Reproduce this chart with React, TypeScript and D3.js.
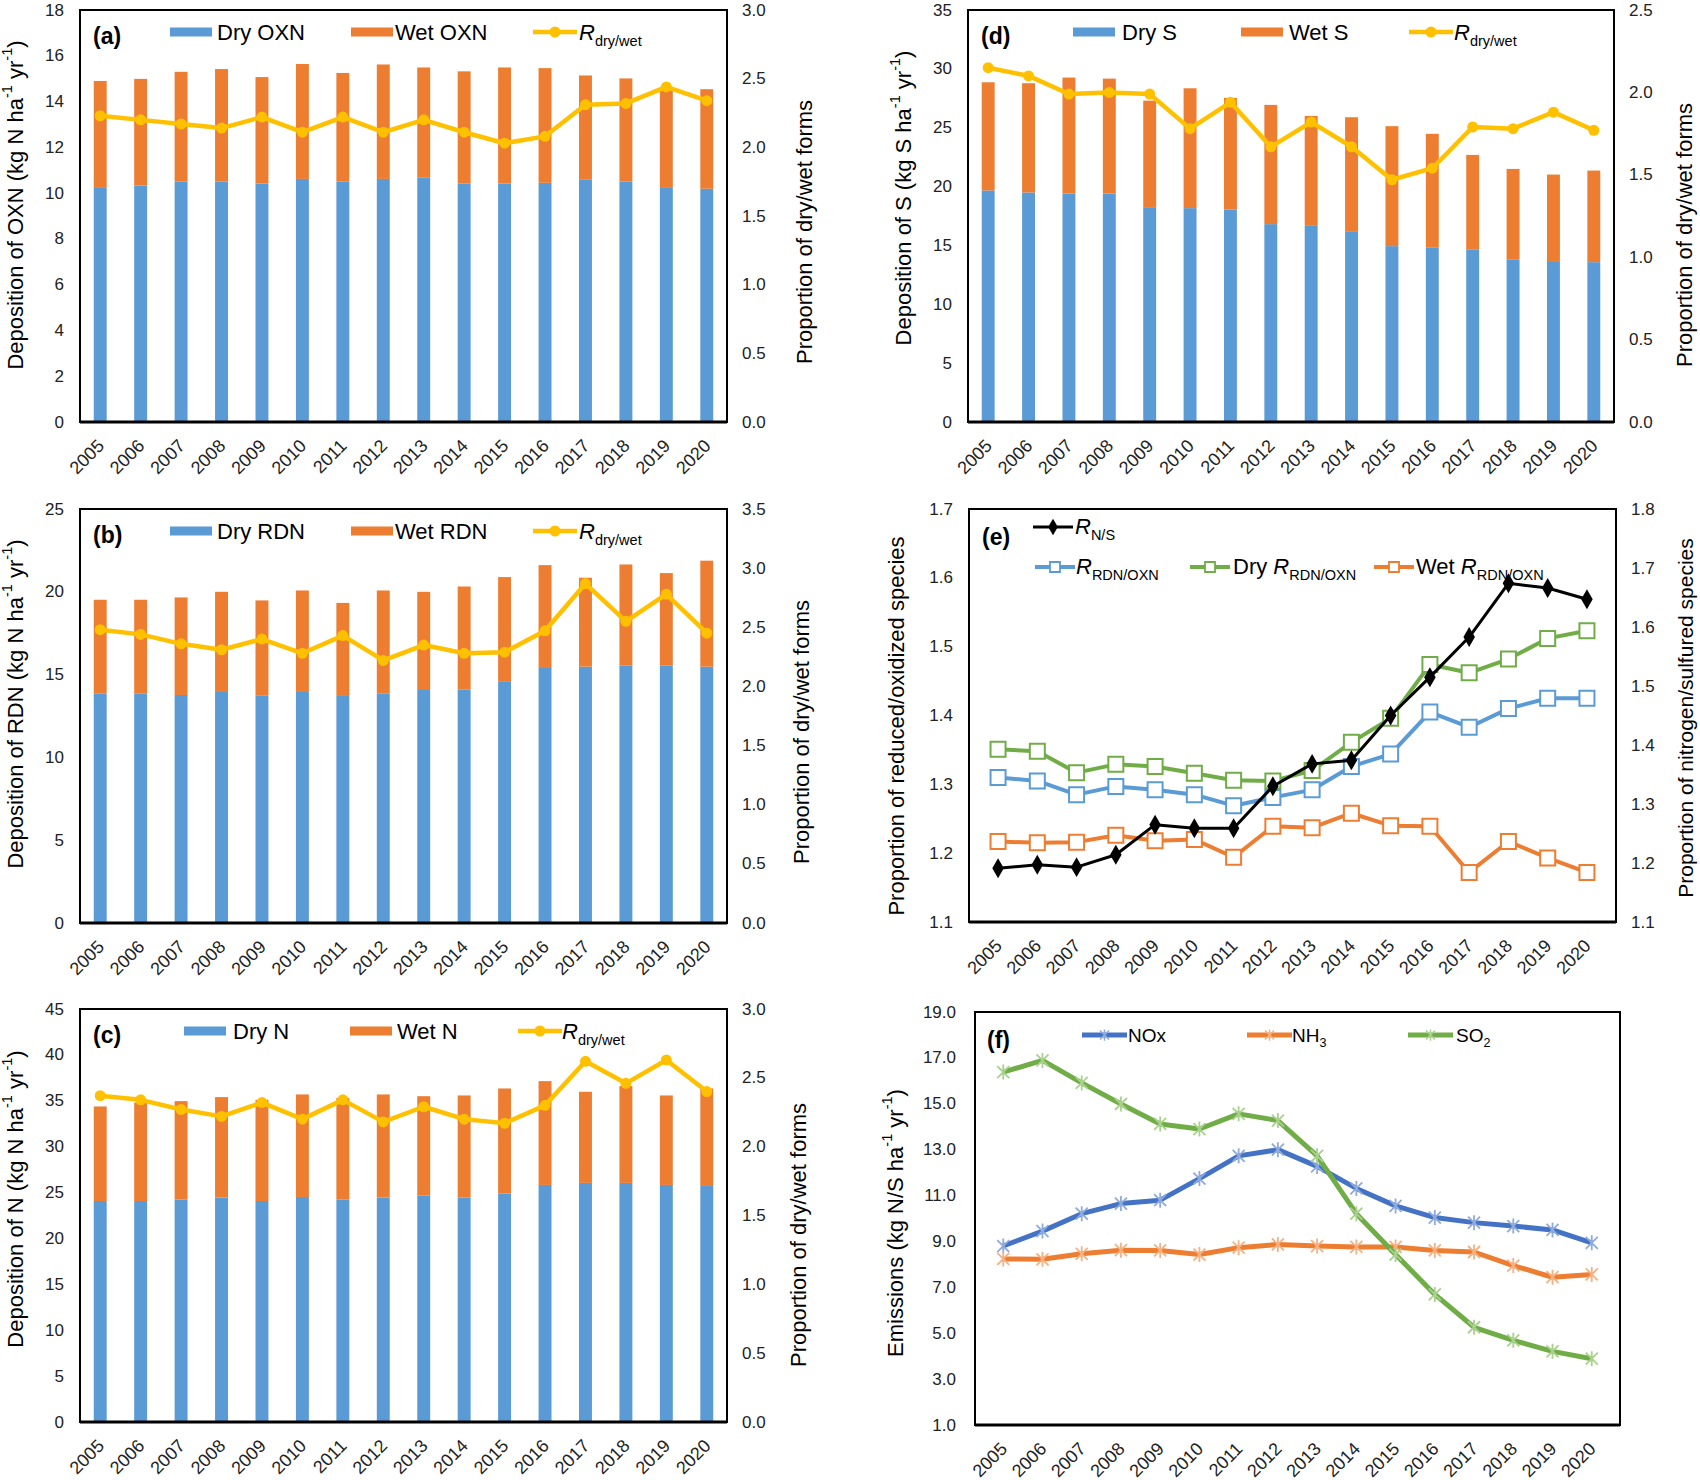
import * as d3 from "d3";

// ---- data ----
const years = ["2005", "2006", "2007", "2008", "2009", "2010", "2011", "2012", "2013", "2014", "2015", "2016", "2017", "2018", "2019", "2020"];

const dryOXN = [10.26, 10.33, 10.5, 10.5, 10.42, 10.62, 10.5, 10.62, 10.67, 10.42, 10.42, 10.45, 10.58, 10.5, 10.26, 10.19];
const wetOXN = [4.64, 4.66, 4.8, 4.92, 4.65, 5.02, 4.75, 5.0, 4.82, 4.9, 5.07, 5.01, 4.56, 4.51, 4.24, 4.35];
const ratioOXN = [2.23, 2.2, 2.17, 2.14, 2.22, 2.11, 2.22, 2.11, 2.2, 2.11, 2.03, 2.08, 2.31, 2.32, 2.44, 2.34];

const dryRDN = [13.87, 13.87, 13.77, 13.95, 13.75, 13.95, 13.71, 13.87, 14.07, 14.11, 14.56, 15.4, 15.48, 15.56, 15.56, 15.48];
const wetRDN = [5.65, 5.65, 5.89, 6.05, 5.73, 6.13, 5.62, 6.21, 5.93, 6.21, 6.33, 6.21, 5.37, 6.09, 5.57, 6.4];
const ratioRDN = [2.48, 2.44, 2.36, 2.31, 2.4, 2.28, 2.43, 2.22, 2.35, 2.28, 2.29, 2.47, 2.87, 2.55, 2.78, 2.45];

const dryN = [24.08, 24.08, 24.23, 24.45, 24.08, 24.52, 24.23, 24.45, 24.66, 24.45, 24.88, 25.83, 26.05, 26.05, 25.83, 25.72];
const wetN = [10.3, 10.72, 10.73, 10.95, 11.02, 11.17, 11.07, 11.24, 10.84, 11.13, 11.46, 11.31, 9.93, 10.55, 9.75, 10.62];
const ratioN = [2.37, 2.34, 2.27, 2.22, 2.32, 2.2, 2.34, 2.18, 2.29, 2.2, 2.17, 2.3, 2.62, 2.46, 2.63, 2.4];

const dryS = [19.67, 19.5, 19.41, 19.41, 18.25, 18.17, 18.05, 16.81, 16.72, 16.21, 14.94, 14.8, 14.63, 13.78, 13.67, 13.58];
const wetS = [9.19, 9.28, 9.85, 9.76, 9.05, 10.18, 9.48, 10.13, 9.28, 9.68, 10.19, 9.68, 8.06, 7.72, 7.35, 7.78];
const ratioS = [2.15, 2.1, 1.99, 2.0, 1.99, 1.78, 1.94, 1.67, 1.82, 1.67, 1.47, 1.54, 1.79, 1.78, 1.88, 1.77];

const rNS = [1.191, 1.197, 1.193, 1.214, 1.265, 1.259, 1.259, 1.33, 1.368, 1.374, 1.45, 1.515, 1.583, 1.674, 1.666, 1.647];
const rRdnOxn = [1.31, 1.305, 1.285, 1.297, 1.292, 1.285, 1.269, 1.281, 1.292, 1.326, 1.344, 1.405, 1.383, 1.41, 1.425, 1.425];
const rDry = [1.351, 1.348, 1.317, 1.329, 1.326, 1.316, 1.306, 1.305, 1.32, 1.361, 1.396, 1.474, 1.462, 1.482, 1.512, 1.523];
const rWet = [1.217, 1.215, 1.216, 1.226, 1.218, 1.22, 1.194, 1.239, 1.237, 1.258, 1.24, 1.239, 1.172, 1.217, 1.193, 1.172];

const emNOx = [8.8, 9.45, 10.21, 10.65, 10.8, 11.74, 12.73, 13.0, 12.27, 11.31, 10.55, 10.04, 9.82, 9.67, 9.5, 8.94];
const emNH3 = [8.24, 8.22, 8.46, 8.62, 8.61, 8.43, 8.73, 8.87, 8.8, 8.76, 8.76, 8.61, 8.54, 7.95, 7.44, 7.56];
const emSO2 = [16.38, 16.89, 15.91, 14.99, 14.12, 13.9, 14.56, 14.27, 12.73, 10.21, 8.43, 6.69, 5.26, 4.69, 4.21, 3.89];

const FONT = "'Liberation Sans', Arial, Helvetica, sans-serif";
const BLUE = "#5B9BD5";
const ORANGE = "#ED7D31";
const YELLOW = "#FFC000";
const GREEN = "#70AD47";
const DBLUE = "#4472C4";

type Frame = { x0: number; x1: number; y0: number; y1: number };
type Seg = { t: string; s?: "sup" | "sub"; i?: boolean };

function Rich({ segs, size }: { segs: Seg[]; size: number }) {
  let shift = 0;
  const out = segs.map((g, k) => {
    const target = g.s === "sup" ? -size * 0.38 : g.s === "sub" ? size * 0.28 : 0;
    const dy = target - shift;
    shift = target;
    return (
      <tspan key={k} dy={dy !== 0 ? dy : undefined} fontSize={g.s ? size * 0.66 : undefined} fontStyle={g.i ? "italic" : undefined}>
        {g.t}
      </tspan>
    );
  });
  return <>{out}</>;
}

const unit = (el: string): Seg[] => [
  { t: `(kg ${el} ha` },
  { t: "-1", s: "sup" },
  { t: "  yr" },
  { t: "-1", s: "sup" },
  { t: ")" },
];

function VTitle({ cx, cy, segs, size = 22 }: { cx: number; cy: number; segs: Seg[]; size?: number }) {
  return (
    <text transform={`translate(${cx},${cy}) rotate(-90)`} textAnchor="middle" dominantBaseline="central" fontSize={size} fontFamily={FONT} fill="#000">
      <Rich segs={segs} size={size} />
    </text>
  );
}

function Frame({ f }: { f: Frame }) {
  return (
    <g>
      <rect x={f.x0} y={f.y0} width={f.x1 - f.x0} height={f.y1 - f.y0} fill="none" stroke="#000" strokeWidth={2} />
      <line x1={f.x0} x2={f.x1} y1={f.y1} y2={f.y1} stroke="#000" strokeWidth={3} />
    </g>
  );
}

function YTicks({ scale, values, x, anchor, fmt }: { scale: d3.ScaleLinear<number, number>; values: number[]; x: number; anchor: string; fmt: (v: number) => string }) {
  return (
    <g fontSize={17} fontFamily={FONT} fill="#222" textAnchor={anchor}>
      {values.map((v) => (
        <text key={v} x={x} y={scale(v)} dominantBaseline="central">
          {fmt(v)}
        </text>
      ))}
    </g>
  );
}

function YearLabels({ pos, y }: { pos: (yr: string) => number; y: number }) {
  return (
    <g fontSize={18} fontFamily={FONT} fill="#222" textAnchor="end">
      {years.map((yr) => (
        <text key={yr} transform={`translate(${pos(yr) + 5},${y + 25}) rotate(-45)`}>
          {yr}
        </text>
      ))}
    </g>
  );
}

const range = (a: number, b: number, s: number) => d3.range(0, Math.round((b - a) / s) + 1).map((i) => +(a + i * s).toFixed(3));

interface BarProps {
  f: Frame;
  dry: number[];
  wet: number[];
  ratio: number[];
  leftMax: number;
  leftStep: number;
  rightMax: number;
  tag: string;
  names: [string, string];
  lx: number[];
  leftTitle: Seg[];
  leftPos: [number, number];
  rightPos: [number, number];
}

function BarPanel({ f, dry, wet, ratio, leftMax, leftStep, rightMax, tag, names, lx, leftTitle, leftPos, rightPos }: BarProps) {
  const x = d3.scaleBand<string>().domain(years).range([f.x0, f.x1]).paddingInner(0.68).paddingOuter(0.34);
  const yL = d3.scaleLinear().domain([0, leftMax]).range([f.y1, f.y0]);
  const yR = d3.scaleLinear().domain([0, rightMax]).range([f.y1, f.y0]);
  const cx = (yr: string) => (x(yr) as number) + x.bandwidth() / 2;
  const line = d3.line<number>().x((_, i) => cx(years[i])).y((d) => yR(d));
  const ly = f.y0 + 22;
  const lt = f.y0 + 30;
  return (
    <g>
      {years.map((yr, i) => (
        <g key={yr}>
          <rect x={x(yr)} width={x.bandwidth()} y={yL(dry[i])} height={yL(0) - yL(dry[i])} fill={BLUE} />
          <rect x={x(yr)} width={x.bandwidth()} y={yL(dry[i] + wet[i])} height={yL(dry[i]) - yL(dry[i] + wet[i])} fill={ORANGE} />
        </g>
      ))}
      <path d={line(ratio) ?? ""} fill="none" stroke={YELLOW} strokeWidth={4.5} strokeLinejoin="round" />
      {ratio.map((r, i) => (
        <circle key={i} cx={cx(years[i])} cy={yR(r)} r={5.5} fill={YELLOW} />
      ))}
      <Frame f={f} />
      <YTicks scale={yL} values={range(0, leftMax, leftStep)} x={f.x0 - 16} anchor="end" fmt={(v) => String(v)} />
      <YTicks scale={yR} values={range(0, rightMax, 0.5)} x={f.x1 + 15} anchor="start" fmt={d3.format(".1f")} />
      <YearLabels pos={cx} y={f.y1} />
      {/* legend */}
      <text x={f.x0 + 13} y={f.y0 + 34} fontSize={23} fontWeight="bold" fontFamily={FONT}>
        {tag}
      </text>
      <g fontSize={22} fontFamily={FONT} fill="#000">
        <rect x={f.x0 + lx[0]} y={ly - 4.5} width={42} height={9} fill={BLUE} />
        <text x={f.x0 + lx[1]} y={lt}>{names[0]}</text>
        <rect x={f.x0 + lx[2]} y={ly - 4.5} width={42} height={9} fill={ORANGE} />
        <text x={f.x0 + lx[3]} y={lt}>{names[1]}</text>
        <line x1={f.x0 + lx[4]} x2={f.x0 + lx[4] + 44} y1={ly} y2={ly} stroke={YELLOW} strokeWidth={4.5} />
        <circle cx={f.x0 + lx[4] + 22} cy={ly} r={5.5} fill={YELLOW} />
        <text x={f.x0 + lx[5]} y={lt}>
          <Rich segs={[{ t: "R", i: true }, { t: "dry/wet", s: "sub" }]} size={22} />
        </text>
      </g>
      <VTitle cx={leftPos[0]} cy={leftPos[1]} segs={leftTitle} />
      <VTitle cx={rightPos[0]} cy={rightPos[1]} segs={[{ t: "Proportion of dry/wet  forms" }]} />
    </g>
  );
}

function squarePath(s: number) {
  return `M${-s / 2},${-s / 2}h${s}v${s}h${-s}Z`;
}
const starPath = "M-6,-6L6,6M-6,6L6,-6M0,-7.5L0,7.5";

function PanelE() {
  const f: Frame = { x0: 969, x1: 1616, y0: 509, y1: 922 };
  const x = d3.scalePoint<string>().domain(years).range([f.x0, f.x1]).padding(0.74);
  const yL = d3.scaleLinear().domain([1.1, 1.7]).range([f.y1, f.y0]);
  const yR = d3.scaleLinear().domain([1.1, 1.8]).range([f.y1, f.y0]);
  const px = (yr: string) => x(yr) as number;
  const mk = (sc: d3.ScaleLinear<number, number>) => d3.line<number>().x((_, i) => px(years[i])).y((d) => sc(d));
  const diamond = d3.symbol().type(d3.symbolDiamond).size(115)() ?? "";
  const series = [
    { data: rDry, color: GREEN },
    { data: rRdnOxn, color: BLUE },
    { data: rWet, color: ORANGE },
  ];
  const r1 = f.y0 + 18;
  const r2 = f.y0 + 58;
  return (
    <g>
      {series.map((s) => (
        <g key={s.color}>
          <path d={mk(yL)(s.data) ?? ""} fill="none" stroke={s.color} strokeWidth={4} strokeLinejoin="round" />
          {s.data.map((v, i) => (
            <path key={i} d={squarePath(15)} transform={`translate(${px(years[i])},${yL(v)})`} fill="#fff" stroke={s.color} strokeWidth={2} />
          ))}
        </g>
      ))}
      <path d={mk(yR)(rNS) ?? ""} fill="none" stroke="#000" strokeWidth={3} strokeLinejoin="round" />
      {rNS.map((v, i) => (
        <path key={i} d={diamond} transform={`translate(${px(years[i])},${yR(v)})`} fill="#000" />
      ))}
      <Frame f={f} />
      <YTicks scale={yL} values={range(1.1, 1.7, 0.1)} x={f.x0 - 16} anchor="end" fmt={d3.format(".1f")} />
      <YTicks scale={yR} values={range(1.1, 1.8, 0.1)} x={f.x1 + 15} anchor="start" fmt={d3.format(".1f")} />
      <YearLabels pos={px} y={f.y1} />
      <text x={f.x0 + 13} y={f.y0 + 36} fontSize={23} fontWeight="bold" fontFamily={FONT}>
        (e)
      </text>
      <g fontSize={22} fontFamily={FONT} fill="#000">
        <line x1={f.x0 + 64} x2={f.x0 + 104} y1={r1} y2={r1} stroke="#000" strokeWidth={3} />
        <path d={d3.symbol().type(d3.symbolDiamond).size(80)() ?? ""} transform={`translate(${f.x0 + 84},${r1})`} />
        <text x={f.x0 + 106} y={r1 + 7}>
          <Rich segs={[{ t: "R", i: true }, { t: "N/S", s: "sub" }]} size={22} />
        </text>
        {[
          { x: 66, tx: 107, c: BLUE, segs: [{ t: "R", i: true }, { t: "RDN/OXN", s: "sub" }] as Seg[] },
          { x: 221, tx: 264, c: GREEN, segs: [{ t: "Dry " }, { t: "R", i: true }, { t: "RDN/OXN", s: "sub" }] as Seg[] },
          { x: 405, tx: 447, c: ORANGE, segs: [{ t: "Wet " }, { t: "R", i: true }, { t: "RDN/OXN", s: "sub" }] as Seg[] },
        ].map((l) => (
          <g key={l.c}>
            <line x1={f.x0 + l.x} x2={f.x0 + l.x + 40} y1={r2} y2={r2} stroke={l.c} strokeWidth={4} />
            <path d={squarePath(10)} transform={`translate(${f.x0 + l.x + 20},${r2})`} fill="#fff" stroke={l.c} strokeWidth={1.8} />
            <text x={f.x0 + l.tx} y={r2 + 7}>
              <Rich segs={l.segs} size={22} />
            </text>
          </g>
        ))}
      </g>
      <VTitle cx={896} cy={726} segs={[{ t: "Proportion of reduced/oxidized  species" }]} />
      <VTitle cx={1685} cy={718} size={21} segs={[{ t: "Proportion of nitrogen/sulfured  species" }]} />
    </g>
  );
}

function PanelF() {
  const f: Frame = { x0: 975, x1: 1620, y0: 1012, y1: 1425 };
  const x = d3.scalePoint<string>().domain(years).range([f.x0, f.x1]).padding(0.72);
  const y = d3.scaleLinear().domain([1, 19]).range([f.y1, f.y0]);
  const px = (yr: string) => x(yr) as number;
  const line = d3.line<number>().x((_, i) => px(years[i])).y((d) => y(d));
  const series = [
    { data: emNOx, color: DBLUE, light: "#8FAADC", name: [{ t: "NOx" }] as Seg[], lx: 107, tx: 153 },
    { data: emNH3, color: ORANGE, light: "#F4B183", name: [{ t: "NH" }, { t: "3", s: "sub" }] as Seg[], lx: 272, tx: 317 },
    { data: emSO2, color: GREEN, light: "#A9D18E", name: [{ t: "SO" }, { t: "2", s: "sub" }] as Seg[], lx: 433, tx: 481 },
  ];
  const ly = f.y0 + 23;
  return (
    <g>
      {series.map((s) => (
        <g key={s.color}>
          <path d={line(s.data) ?? ""} fill="none" stroke={s.color} strokeWidth={5} strokeLinejoin="round" />
          {s.data.map((v, i) => (
            <path key={i} d={starPath} transform={`translate(${px(years[i])},${y(v)})`} fill="none" stroke={s.light} strokeWidth={1.8} />
          ))}
        </g>
      ))}
      <Frame f={f} />
      <YTicks scale={y} values={range(1, 19, 2)} x={f.x0 - 19} anchor="end" fmt={d3.format(".1f")} />
      <YearLabels pos={px} y={f.y1} />
      <text x={f.x0 + 12} y={f.y0 + 36} fontSize={23} fontWeight="bold" fontFamily={FONT}>
        (f)
      </text>
      <g fontSize={19} fontFamily={FONT} fill="#000">
        {series.map((s) => (
          <g key={s.color}>
            <line x1={f.x0 + s.lx} x2={f.x0 + s.lx + 45} y1={ly} y2={ly} stroke={s.color} strokeWidth={5} />
            <path d={starPath} transform={`translate(${f.x0 + s.lx + 22.5},${ly}) scale(0.75)`} fill="none" stroke={s.light} strokeWidth={2} />
            <text x={f.x0 + s.tx} y={ly + 7}>
              <Rich segs={s.name} size={19} />
            </text>
          </g>
        ))}
      </g>
      <VTitle cx={895} cy={1223} segs={[{ t: "Emissions " }, ...unit("N/S")]} />
    </g>
  );
}

export default function App() {
  return (
    <svg width={1700} height={1480} style={{ position: "absolute", left: 0, top: 0, background: "#fff" }} fontFamily={FONT}>
      <rect width={1700} height={1480} fill="#fff" />
      <BarPanel
        f={{ x0: 80, x1: 727, y0: 10, y1: 422 }}
        dry={dryOXN}
        wet={wetOXN}
        ratio={ratioOXN}
        leftMax={18}
        leftStep={2}
        rightMax={3}
        tag="(a)"
        names={["Dry OXN", "Wet OXN"]}
        lx={[90, 137, 271, 315, 453, 499]}
        leftTitle={[{ t: "Deposition of OXN " }, ...unit("N")]}
        leftPos={[15, 205]}
        rightPos={[804, 232]}
      />
      <BarPanel
        f={{ x0: 80, x1: 727, y0: 509, y1: 923 }}
        dry={dryRDN}
        wet={wetRDN}
        ratio={ratioRDN}
        leftMax={25}
        leftStep={5}
        rightMax={3.5}
        tag="(b)"
        names={["Dry RDN", "Wet RDN"]}
        lx={[90, 137, 271, 315, 453, 499]}
        leftTitle={[{ t: "Deposition of RDN " }, ...unit("N")]}
        leftPos={[15, 704]}
        rightPos={[801, 732]}
      />
      <BarPanel
        f={{ x0: 80, x1: 727, y0: 1009, y1: 1422 }}
        dry={dryN}
        wet={wetN}
        ratio={ratioN}
        leftMax={45}
        leftStep={5}
        rightMax={3}
        tag="(c)"
        names={["Dry N", "Wet N"]}
        lx={[104, 153, 270, 317, 438, 482]}
        leftTitle={[{ t: "Deposition of N " }, ...unit("N")]}
        leftPos={[15, 1199]}
        rightPos={[798, 1235]}
      />
      <BarPanel
        f={{ x0: 968, x1: 1614, y0: 10, y1: 422 }}
        dry={dryS}
        wet={wetS}
        ratio={ratioS}
        leftMax={35}
        leftStep={5}
        rightMax={2.5}
        tag="(d)"
        names={["Dry S", "Wet S"]}
        lx={[105, 154, 273, 321, 441, 486]}
        leftTitle={[{ t: "Deposition of S " }, ...unit("S")]}
        leftPos={[903, 198]}
        rightPos={[1684, 235]}
      />
      <PanelE />
      <PanelF />
    </svg>
  );
}
